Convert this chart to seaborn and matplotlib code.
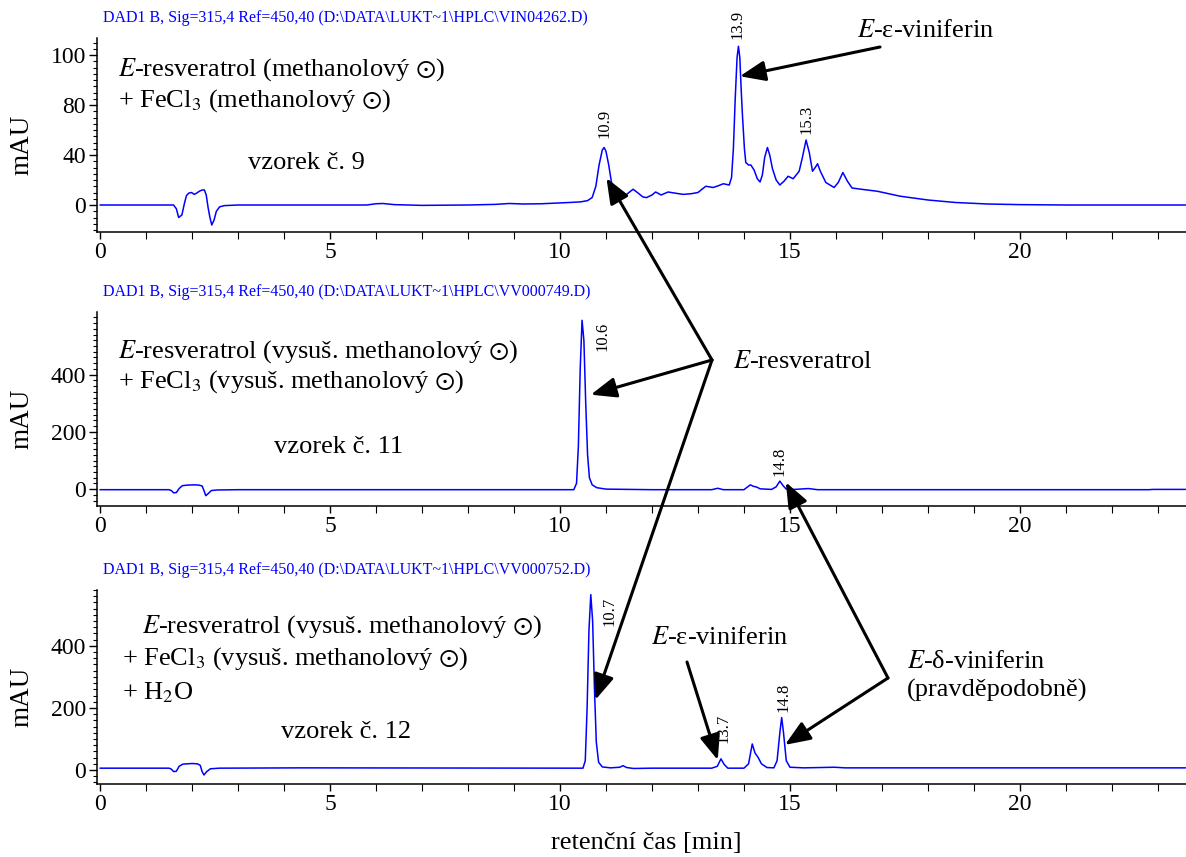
import numpy as np
import pandas as pd
import matplotlib
matplotlib.use("Agg")
import matplotlib.pyplot as plt
import seaborn as sns
from matplotlib.ticker import MultipleLocator
from matplotlib.patches import ConnectionPatch

# Styl
sns.set_style("ticks")
plt.rcParams['font.family'] = ['Liberation Serif', 'DejaVu Serif']
plt.rcParams['mathtext.fontset'] = 'stix'
plt.rcParams['text.color'] = 'black'
plt.rcParams['axes.labelcolor'] = 'black'
plt.rcParams['xtick.color'] = 'black'
plt.rcParams['ytick.color'] = 'black'

BLUE = '#0000ff'
W, H = 1186, 857

# --- data: vzorek č. 9 ---
t9 = [0, 1.6, 1.66, 1.71, 1.78, 1.84, 1.88, 1.93, 1.99, 2.05, 2.1, 2.16, 2.22, 2.27, 2.31,
      2.35, 2.39, 2.43, 2.48, 2.53, 2.6, 2.7, 3.0, 4.0, 5.0, 5.8, 6.0, 6.15, 6.4, 7.0, 8.0,
      8.6, 8.9, 9.2, 9.6, 9.9, 10.2, 10.45, 10.6, 10.7, 10.78, 10.85, 10.92, 10.96, 11.0,
      11.06, 11.12, 11.2, 11.3, 11.4, 11.5, 11.59, 11.7, 11.8, 11.88, 12.0, 12.08, 12.2,
      12.35, 12.5, 12.68, 12.85, 13.0, 13.17, 13.33, 13.45, 13.55, 13.68, 13.73, 13.77,
      13.81, 13.85, 13.88, 13.91, 13.94, 13.97, 14.01, 14.04, 14.1, 14.15, 14.22, 14.29,
      14.35, 14.4, 14.45, 14.51, 14.56, 14.62, 14.7, 14.78, 14.87, 14.96, 15.07, 15.2,
      15.27, 15.35, 15.42, 15.49, 15.55, 15.6, 15.66, 15.78, 15.96, 16.05, 16.15, 16.25,
      16.35, 16.57, 16.9, 17.4, 18.0, 18.6, 19.3, 20.0, 21.0, 22.0, 23.6]
mau9 = [0, 0, -3, -10, -8, 2, 7.5, 9.5, 10, 8.5, 9.5, 11, 12, 12, 8,
        -2, -10, -16, -12, -5, -1.5, -0.5, 0, 0, 0, 0, 1, 1.2, 0.3, -0.3, 0,
        0.5, 1.2, 0.8, 1, 1.5, 2, 2.5, 3.5, 6, 15, 32, 44, 46, 43,
        32, 18, 9, 6.4, 7, 10, 12.6, 9.5, 6.5, 5.9, 8, 10.4, 8,
        10.4, 9.5, 8.5, 9, 10, 15, 14, 15.5, 17, 16, 22, 45,
        85, 118, 127, 118, 92, 70, 45, 34, 32, 32, 28, 21,
        18.4, 24, 38, 46, 40, 29, 20, 16, 19, 23, 21, 27,
        38, 52, 42, 27, 30, 33, 27, 18, 14, 18, 26, 19,
        13.6, 12.5, 11, 7, 4, 2, 0.8, 0.3, 0, 0, 0]

# --- data: vzorek č. 11 ---
t11 = [0, 1.5, 1.55, 1.6, 1.66, 1.72, 1.79, 1.9, 2.05, 2.15, 2.22, 2.26, 2.3, 2.35, 2.42,
       2.55, 3.0, 6.0, 10.3, 10.36, 10.4, 10.44, 10.48, 10.52, 10.56, 10.6, 10.64, 10.7,
       10.8, 11.0, 11.5, 12.0, 13.3, 13.43, 13.55, 14.0, 14.08, 14.14, 14.2, 14.28, 14.35,
       14.6, 14.7, 14.78, 14.85, 14.92, 15.1, 15.4, 15.6, 20.0, 22.8, 22.9, 23.6]
mau11 = [-2, -2, -5, -13, -12, 2, 12, 14, 15, 14, 11, -5, -23, -16, -5,
         -3, -2, -2, -2, 20, 150, 420, 590, 520, 300, 120, 40, 15,
         5, 0, -1, -2, -2, 3, -2, -2, 8, 15, 10, 7, 1,
         -1, 8, 28, 12, 0, -1, 2, -2, -2, -2, -1, -1]

# --- data: vzorek č. 12 ---
t12 = [0, 1.5, 1.55, 1.6, 1.66, 1.72, 1.8, 2.0, 2.12, 2.18, 2.22, 2.26, 2.32, 2.4, 2.6,
       4.4, 10.5, 10.55, 10.59, 10.63, 10.67, 10.71, 10.75, 10.79, 10.84, 10.92, 11.1,
       11.3, 11.37, 11.45, 11.6, 12.0, 13.3, 13.42, 13.5, 13.57, 13.65, 14.0, 14.1, 14.18,
       14.24, 14.31, 14.38, 14.5, 14.65, 14.72, 14.78, 14.82, 14.86, 14.92, 15.0, 15.3,
       15.97, 16.2, 23.6]
mau12 = [6, 6, 3, -5, -4, 12, 19, 21, 20, 15, -5, -16, -5, 4, 6,
         7, 6, 30, 200, 450, 565, 480, 260, 90, 25, 10, 7,
         9, 14, 8, 5, 6, 6, 12, 36, 18, 6, 6, 20, 84,
         55, 40, 20, 8, 7, 30, 120, 169, 120, 30, 9, 7,
         9, 7, 7]

titles = [r"DAD1 B, Sig=315,4 Ref=450,40 (D:\DATA\LUKT~1\HPLC\VIN04262.D)",
          r"DAD1 B, Sig=315,4 Ref=450,40 (D:\DATA\LUKT~1\HPLC\VV000749.D)",
          r"DAD1 B, Sig=315,4 Ref=450,40 (D:\DATA\LUKT~1\HPLC\VV000752.D)"]
ytick_vals = [[0, 40, 80, 120], [0, 200, 400], [0, 200, 400]]
ytick_labels = [['0', '40', '80', '100'], ['0', '200', '400'], ['0', '200', '400']]
ylims = [(-21.6, 133.6), (-59, 619), (-45, 580)]
yminor = [5, 20, 20]
xticks = [0, 5, 10, 15, 20]

# peak labels: (text, t, mAU, va)
peaks = [
    [("10.9", 10.96, 54, 'bottom'), ("13.9", 13.86, 133, 'bottom'), ("15.3", 15.37, 57, 'bottom')],
    [("10.6", 10.93, 584, 'top'), ("14.8", 14.78, 45, 'bottom')],
    [("10.7", 11.07, 558, 'top'), ("13.7", 13.55, 87, 'bottom'), ("14.8", 14.85, 187, 'bottom')],
]

# popisky v obrázku (px souřadnice obrázku)
panel_texts = [
    [(118, 70, r"$E$-resveratrol (methanolový $\odot$)"),
     (118, 101, r"+ FeCl$_3$ (methanolový $\odot$)"),
     (248, 163, "vzorek č. 9")],
    [(118, 352, r"$E$-resveratrol (vysuš. methanolový $\odot$)"),
     (118, 382, r"+ FeCl$_3$ (vysuš. methanolový $\odot$)"),
     (274, 447, "vzorek č. 11")],
    [(142, 627, r"$E$-resveratrol (vysuš. methanolový $\odot$)"),
     (122, 659, r"+ FeCl$_3$ (vysuš. methanolový $\odot$)"),
     (122, 693, r"+ H$_2$O"),
     (281, 732, "vzorek č. 12")],
]


def fx(x):
    return x / W


def fy(y):
    return 1 - y / H


fig = plt.figure(figsize=(W / 100, H / 100), dpi=100)
rects = [(38, 232), (312, 506), (590, 784)]
axes = []
traces = [(t9, mau9), (t11, mau11), (t12, mau12)]

for i, (top, bot) in enumerate(rects):
    ax = fig.add_axes([fx(97), fy(bot), fx(W - 97), (bot - top) / H])
    df = pd.DataFrame({'t': traces[i][0], 'mAU': traces[i][1]})
    sns.lineplot(data=df, x='t', y='mAU', ax=ax, color=BLUE, lw=1.1, estimator=None)
    ax.set_xlim(-0.065, 23.61)
    ax.set_ylim(*ylims[i])
    ax.set_xticks(xticks)
    ax.set_yticks(ytick_vals[i], labels=ytick_labels[i])
    ax.xaxis.set_minor_locator(MultipleLocator(1))
    ax.yaxis.set_minor_locator(MultipleLocator(yminor[i]))
    ax.tick_params(which='major', direction='out', length=6, width=1, labelsize=17, pad=2,
                   color='black', labelcolor='black')
    ax.tick_params(which='minor', direction='out', length=3, width=0.8, color='black')
    ax.tick_params(axis='x', which='both', length=5)
    ax.set_xlabel('')
    ax.set_ylabel('mAU', fontsize=19.5, va='center', color='black')
    ax.yaxis.set_label_coords((22 - 97) / (W - 97), 0.45)
    sns.despine(ax=ax)
    for s in ['left', 'bottom']:
        ax.spines[s].set_linewidth(1.1)
        ax.spines[s].set_color('black')
    for txt, tx, ty, va in peaks[i]:
        ax.text(tx, ty, txt, rotation=90, ha='center', va=va, fontsize=12, color='black')
    axes.append(ax)

for i, (top, bot) in enumerate(rects):
    fig.text(fx(103), fy(top - 20), titles[i], color=BLUE, fontsize=11.5, ha='left', va='center')
    for px, py, s in panel_texts[i]:
        fig.text(fx(px), fy(py), s, fontsize=19, ha='left', va='center', color='black')

fig.text(fx(646), fy(843), "retenční čas [min]", fontsize=19, ha='center', va='center',
         color='black')

# šipky
arrow_kw = dict(arrowstyle='-|>,head_length=0.55,head_width=0.22', mutation_scale=28,
                lw=2.2, color='black', shrinkA=0, shrinkB=0)


def arrow(start_px, ax, t, v):
    con = ConnectionPatch(xyA=(fx(start_px[0]), fy(start_px[1])), coordsA='figure fraction',
                          xyB=(t, v), coordsB=ax.transData, **arrow_kw)
    fig.add_artist(con)


fig.text(fx(857), fy(31), r"$E$-ε-viniferin", fontsize=19, ha='left', va='center')
arrow((880, 47), axes[0], 13.91, 103)

fig.text(fx(733), fy(362), r"$E$-resveratrol", fontsize=19, ha='left', va='center')
vertex_res = (712, 360)
arrow(vertex_res, axes[0], 11.01, 21.6)
arrow(vertex_res, axes[1], 10.67, 330)
arrow(vertex_res, axes[2], 10.77, 226)

fig.text(fx(651), fy(638), r"$E$-ε-viniferin", fontsize=19, ha='left', va='center')
arrow((687, 662), axes[2], 13.43, 32)

fig.text(fx(907), fy(662), r"$E$-δ-viniferin", fontsize=19, ha='left', va='center')
fig.text(fx(907), fy(690), "(pravděpodobně)", fontsize=19, ha='left', va='center')
vertex_del = (888, 678)
arrow(vertex_del, axes[1], 14.91, 24)
arrow(vertex_del, axes[2], 14.89, 81)

fig.savefig('out.png', dpi=100)
